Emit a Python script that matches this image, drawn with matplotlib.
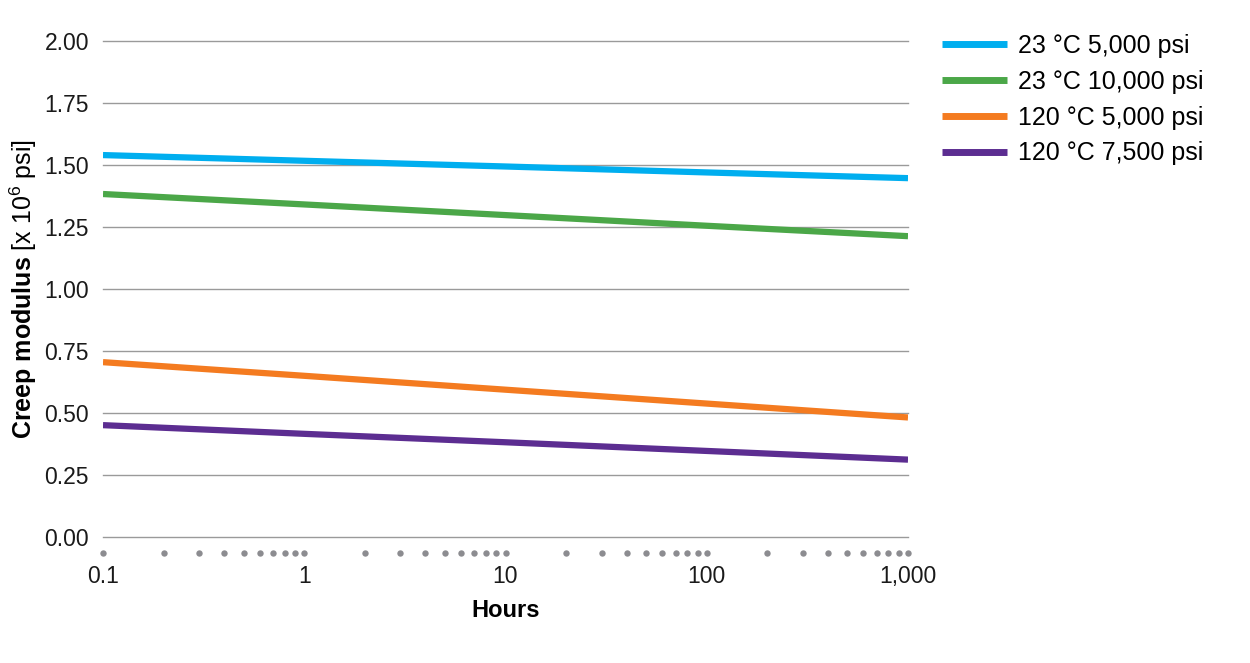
import matplotlib
matplotlib.use("Agg")
import matplotlib.pyplot as plt
import numpy as np
from matplotlib.ticker import LogLocator, FixedLocator, FixedFormatter, NullFormatter

plt.rcParams['font.family'] = ['Liberation Sans', 'DejaVu Sans']
plt.rcParams['mathtext.fontset'] = 'custom'
plt.rcParams['mathtext.rm'] = 'Liberation Sans'
plt.rcParams['mathtext.bf'] = 'Liberation Sans:bold'
plt.rcParams['mathtext.it'] = 'Liberation Sans:italic'

hours = [0.1, 1, 10, 100, 1000]
series_names = ["23 °C 5,000 psi", "23 °C 10,000 psi", "120 °C 5,000 psi", "120 °C 7,500 psi"]
blue_vals = [1.540, 1.517, 1.494, 1.470, 1.447]
green_vals = [1.383, 1.341, 1.298, 1.255, 1.213]
orange_vals = [0.705, 0.650, 0.594, 0.538, 0.482]
purple_vals = [0.451, 0.416, 0.382, 0.347, 0.312]
colors = ["#00AEEF", "#4BA748", "#F47B20", "#5C2D91"]
x_tick_labels = ["0.1", "1", "10", "100", "1,000"]
y_ticks = [0.00, 0.25, 0.50, 0.75, 1.00, 1.25, 1.50, 1.75, 2.00]

fig = plt.figure(figsize=(12.5, 6.63), dpi=100)
ax = fig.add_axes([103/1250, 1-537/663, (908-103)/1250, (537-41)/663])

for vals, c, name in zip([blue_vals, green_vals, orange_vals, purple_vals], colors, series_names):
    ax.plot(hours, vals, color=c, lw=4.5, label=name, solid_capstyle='butt', zorder=3)

ax.set_xscale('log')
ax.set_xlim(0.1, 1000)
ax.set_ylim(0, 2.0)
ax.set_yticks(y_ticks)
ax.set_yticklabels([f"{v:.2f}" for v in y_ticks])
ax.yaxis.grid(True, color="#9a9a9a", lw=1.0)
for gl in ax.yaxis.get_gridlines():
    gl.set_clip_on(False)
ax.set_axisbelow(True)
for s in ax.spines.values():
    s.set_visible(False)
ax.spines['bottom'].set_position(('outward', 11.5))

ax.xaxis.set_major_locator(FixedLocator(hours))
ax.xaxis.set_major_formatter(FixedFormatter(x_tick_labels))
ax.xaxis.set_minor_locator(LogLocator(base=10, subs=np.arange(2, 10)))
ax.xaxis.set_minor_formatter(NullFormatter())

ax.tick_params(axis='y', length=0, pad=10, labelsize=16.5, labelcolor="#1a1a1a")
ax.tick_params(axis='x', which='both', pad=5, labelsize=16.5, labelcolor="#1a1a1a")
for t in ax.xaxis.get_major_ticks() + ax.xaxis.get_minor_ticks():
    ln = t.tick1line
    ln.set_marker('o')
    ln.set_markersize(4.6)
    ln.set_markerfacecolor("#8c8c90")
    ln.set_markeredgecolor("#8c8c90")
    ln.set_markeredgewidth(0)
    t.tick2line.set_visible(False)

ax.set_xlabel("Hours", fontsize=17, fontweight='bold', labelpad=8)
ax.set_ylabel(r"$\mathbf{Creep\ modulus}$ [x 10$^{6}$ psi]", fontsize=18, labelpad=4)

leg = ax.legend(loc='upper left', bbox_to_anchor=(932/1250, 1-24/663), bbox_transform=fig.transFigure,
                frameon=False, fontsize=18, handlelength=2.6, handletextpad=0.45,
                labelspacing=0.47, borderaxespad=0)
for h in leg.get_lines():
    h.set_linewidth(5)

fig.savefig("out.png", dpi=100)
